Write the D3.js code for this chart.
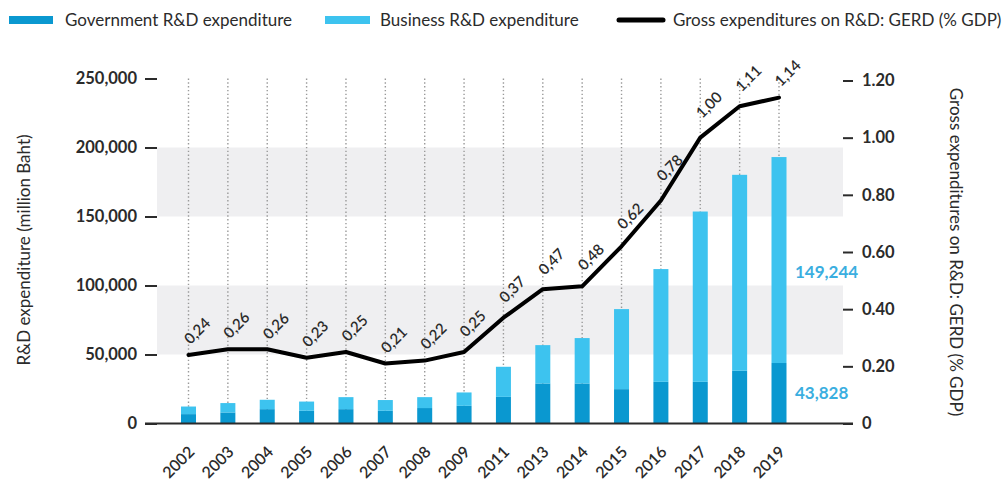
<!DOCTYPE html>
<html>
<head>
<meta charset="utf-8">
<script src="https://cdn.jsdelivr.net/npm/d3@7"></script>
<style>
  html, body { margin: 0; padding: 0; background: #fff; }
  svg { display: block; font-family: Lato, "Open Sans", sans-serif; }
</style>
</head>
<body>
<svg id="chart" width="1004" height="480"></svg>
<script>
// Years shown on the category axis (2010 and 2012 are not reported)
const years = ["2002","2003","2004","2005","2006","2007","2008","2009","2011","2013","2014","2015","2016","2017","2018","2019"];
// Government R&D expenditure (million Baht)
const government = [6800, 8000, 10400, 9200, 10400, 9200, 11200, 12800, 19300, 29000, 29000, 24900, 30200, 30200, 38200, 43828];
// Business R&D expenditure (million Baht)
const business = [5500, 6800, 6800, 6700, 8700, 7800, 7900, 9700, 21800, 27800, 32900, 58000, 81700, 123400, 142000, 149244];
// GERD as % of GDP
const gerd = [0.24, 0.26, 0.26, 0.23, 0.25, 0.21, 0.22, 0.25, 0.37, 0.47, 0.48, 0.62, 0.78, 1.00, 1.11, 1.14];
// Axis ticks
const leftTicks = [0, 50000, 100000, 150000, 200000, 250000];
const rightTicks = [0, 0.2, 0.4, 0.6, 0.8, 1.0, 1.2];
const shadedBands = [[50000, 100000], [150000, 200000]];

const svg = d3.select("#chart");
const colGov = "#0a98d0", colBus = "#3dc3ef", colText = "#2b2b2b", colValue = "#3aaee0";

const x = d3.scalePoint().domain(years).range([188.5, 779]);
const yL = d3.scaleLinear().domain([0, 250000]).range([423.5, 78.5]);
const yR = d3.scaleLinear().domain([0, 1.2]).range([423.5, 80.5]);
const barW = 15;
const plotL = 157, plotR = 843;

// shaded bands
svg.append("g").selectAll("rect").data(shadedBands).join("rect")
  .attr("x", plotL).attr("width", plotR - plotL)
  .attr("y", d => yL(d[1])).attr("height", d => yL(d[0]) - yL(d[1]))
  .attr("fill", "#efeff1");

// dotted guides per year
svg.append("g").selectAll("line").data(years).join("line")
  .attr("x1", d => x(d)).attr("x2", d => x(d))
  .attr("y1", yL(250000)).attr("y2", yL(0))
  .attr("stroke", "#9a9a9a").attr("stroke-width", 1.4)
  .attr("stroke-dasharray", "1.4,2.4");

// stacked bars
const stacked = years.map((y, i) => ({ year: y, gov: government[i], bus: business[i] }));
const bars = svg.append("g");
bars.selectAll("rect.gov").data(stacked).join("rect").attr("class", "gov")
  .attr("x", d => x(d.year) - barW / 2).attr("width", barW)
  .attr("y", d => yL(d.gov)).attr("height", d => yL(0) - yL(d.gov))
  .attr("fill", colGov);
bars.selectAll("rect.bus").data(stacked).join("rect").attr("class", "bus")
  .attr("x", d => x(d.year) - barW / 2).attr("width", barW)
  .attr("y", d => yL(d.gov + d.bus)).attr("height", d => yL(d.gov) - yL(d.gov + d.bus))
  .attr("fill", colBus);

// left axis
const axL = svg.append("g").attr("transform", `translate(${plotL},0)`)
  .call(d3.axisLeft(yL).tickValues(leftTicks).tickSize(12).tickPadding(8)
    .tickFormat(d => d === 0 ? "0" : d3.format(",")(d)));
axL.select(".domain").remove();
axL.selectAll(".tick line").attr("stroke", colText).attr("stroke-width", 2);
axL.selectAll(".tick text").attr("fill", colText).style("font-size", "16.5px").style("font-weight", 700)
  .style("font-family", "Lato, sans-serif");

// right axis
const axR = svg.append("g").attr("transform", `translate(${plotR},0)`)
  .call(d3.axisRight(yR).tickValues(rightTicks).tickSize(10).tickPadding(9)
    .tickFormat(d => d === 0 ? "0" : d3.format(".2f")(d)));
axR.select(".domain").remove();
axR.selectAll(".tick line").attr("stroke", colText).attr("stroke-width", 2);
axR.selectAll(".tick text").attr("fill", colText).style("font-size", "16.5px").style("font-weight", 700)
  .style("font-family", "Lato, sans-serif");

// zero baseline
svg.append("line").attr("x1", 145).attr("x2", plotR + 10)
  .attr("y1", yL(0)).attr("y2", yL(0)).attr("stroke", colText).attr("stroke-width", 2);

// GERD line
const pts = years.map((y, i) => [x(y), yR(gerd[i])]);
svg.append("path").datum(pts)
  .attr("d", d3.line())
  .attr("fill", "none").attr("stroke", "#000").attr("stroke-width", 4)
  .attr("stroke-linejoin", "round").attr("stroke-linecap", "round");

// GERD value labels, lifted further where the line is steep
const step = x.step();
const fmtComma = d => d3.format(".2f")(d).replace(".", ",");
svg.append("g").selectAll("text").data(years).join("text")
  .attr("transform", (d, i) => {
    const sIn = i > 0 ? (pts[i - 1][1] - pts[i][1]) / step : 0;
    const sOut = i < pts.length - 1 ? (pts[i][1] - pts[i + 1][1]) / step : 0;
    const off = 9 + 6 * Math.max(0, sIn, sOut);
    return `translate(${pts[i][0] + 2},${pts[i][1] - off}) rotate(-45)`;
  })
  .attr("fill", colText).style("font-size", "15px").style("font-weight", 600)
  .text((d, i) => fmtComma(gerd[i]));

// year labels
svg.append("g").selectAll("text").data(years).join("text")
  .attr("transform", d => `translate(${x(d) + 7},453) rotate(-45)`)
  .attr("text-anchor", "end").attr("fill", colText)
  .style("font-size", "16px").style("font-weight", 600)
  .text(d => d);

// 2019 values
const last = stacked[stacked.length - 1];
svg.append("text").attr("x", 795).attr("y", (yL(last.gov + last.bus) + yL(last.gov)) / 2 + 18)
  .attr("fill", colValue).style("font-size", "17px").style("font-weight", 700)
  .text(d3.format(",")(last.bus));
svg.append("text").attr("x", 795).attr("y", (yL(last.gov) + yL(0)) / 2 + 6)
  .attr("fill", colValue).style("font-size", "17px").style("font-weight", 700)
  .text(d3.format(",")(last.gov));

// axis titles
svg.append("text").attr("transform", "translate(30,250) rotate(-90)")
  .attr("text-anchor", "middle").attr("fill", colText).style("font-size", "17px")
  .text("R&D expenditure (million Baht)");
svg.append("text").attr("transform", "translate(950,252) rotate(90)")
  .attr("text-anchor", "middle").attr("fill", colText).style("font-size", "17px")
  .text("Gross expenditures on R&D: GERD (% GDP)");

// legend
const lg = svg.append("g");
lg.append("rect").attr("x", 9).attr("y", 16).attr("width", 44).attr("height", 8).attr("fill", colGov);
lg.append("text").attr("x", 65).attr("y", 26).attr("fill", colText).style("font-size", "17px")
  .text("Government R&D expenditure");
lg.append("rect").attr("x", 325).attr("y", 16).attr("width", 45).attr("height", 8).attr("fill", colBus);
lg.append("text").attr("x", 380).attr("y", 26).attr("fill", colText).style("font-size", "17px")
  .text("Business R&D expenditure");
lg.append("line").attr("x1", 619).attr("x2", 663).attr("y1", 20).attr("y2", 20)
  .attr("stroke", "#000").attr("stroke-width", 5).attr("stroke-linecap", "round");
lg.append("text").attr("x", 673).attr("y", 26).attr("fill", colText).style("font-size", "17px")
  .text("Gross expenditures on R&D: GERD (% GDP)");
</script>
</body>
</html>
